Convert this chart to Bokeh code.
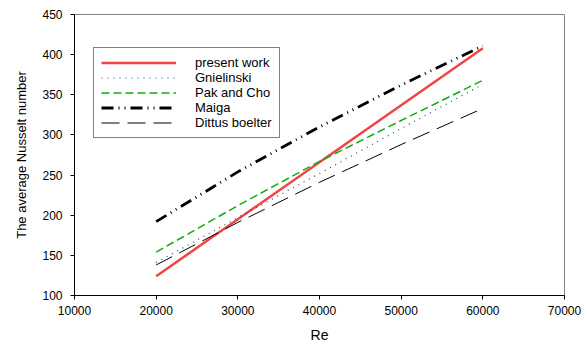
from bokeh.plotting import figure
from bokeh.models import Legend, LegendItem, FixedTicker, Range1d
from bokeh.embed import file_html
from bokeh.resources import INLINE

re_vals = [20000, 30000, 40000, 50000, 60000]
present_work = [124, 195, 266, 337, 408]
gnielinski = [141, 197, 252, 308, 363]
pak_cho = [154, 212, 267, 318, 368]
maiga = [192, 254, 310, 362, 411]
dittus = [138, 191, 241, 288, 333]

x_ticks = [10000, 20000, 30000, 40000, 50000, 60000, 70000]
y_ticks = [100, 150, 200, 250, 300, 350, 400, 450]

FONT = "Liberation Sans"

p = figure(width=588, height=345, output_backend="svg", toolbar_location=None,
           x_range=Range1d(10000, 70000), y_range=Range1d(100, 450),
           min_border_left=74, min_border_right=24, min_border_top=14, min_border_bottom=49)
p.xgrid.visible = False
p.ygrid.visible = False
p.outline_line_color = "#808080"
p.outline_line_width = 1

for ax in (p.xaxis[0], p.yaxis[0]):
    ax.axis_line_color = "black"
    ax.major_tick_line_color = "black"
    ax.minor_tick_line_color = None
    ax.major_tick_out = 4
    ax.major_tick_in = 0
    ax.major_label_text_font = FONT
    ax.major_label_text_font_size = "12px"
    ax.major_label_text_color = "black"
    ax.axis_label_text_font = FONT
    ax.axis_label_text_font_style = "normal"
    ax.axis_label_text_color = "black"

p.xaxis.ticker = FixedTicker(ticks=x_ticks)
p.yaxis.ticker = FixedTicker(ticks=y_ticks)
p.xaxis.axis_label = "Re"
p.xaxis.axis_label_text_font_size = "14px"
p.xaxis.axis_label_standoff = 9
p.xaxis.major_label_standoff = 6
p.yaxis.axis_label = "The average Nusselt number"
p.yaxis.axis_label_text_font_size = "13px"
p.yaxis.axis_label_standoff = 10
p.yaxis.major_label_standoff = 8

r1 = p.line(re_vals, present_work, line_color="#f24444", line_width=2.5)
r2 = p.line(re_vals, gnielinski, line_color="#334466", line_width=1.2, line_dash="1 5")
r3 = p.line(re_vals, pak_cho, line_color="#11aa11", line_width=1.5, line_dash="8 4")
r4 = p.line(re_vals, maiga, line_color="black", line_width=2.8, line_dash="12 5 1 5 1 5")
r5 = p.line(re_vals, dittus, line_color="black", line_width=1, line_dash="18 8")

legend = Legend(items=[
    LegendItem(label="present work", renderers=[r1]),
    LegendItem(label="Gnielinski", renderers=[r2]),
    LegendItem(label="Pak and Cho", renderers=[r3]),
    LegendItem(label="Maiga", renderers=[r4]),
    LegendItem(label="Dittus boelter", renderers=[r5]),
], location=(19, 157), margin=0, padding=7, spacing=0,
    glyph_width=75, glyph_height=15, label_height=15, label_standoff=19,
    label_text_font=FONT, label_text_font_size="13px", label_text_color="black",
    border_line_color="black", border_line_width=1, background_fill_alpha=1)
p.add_layout(legend, "center")

open("out.html", "w").write(file_html(p, INLINE))
